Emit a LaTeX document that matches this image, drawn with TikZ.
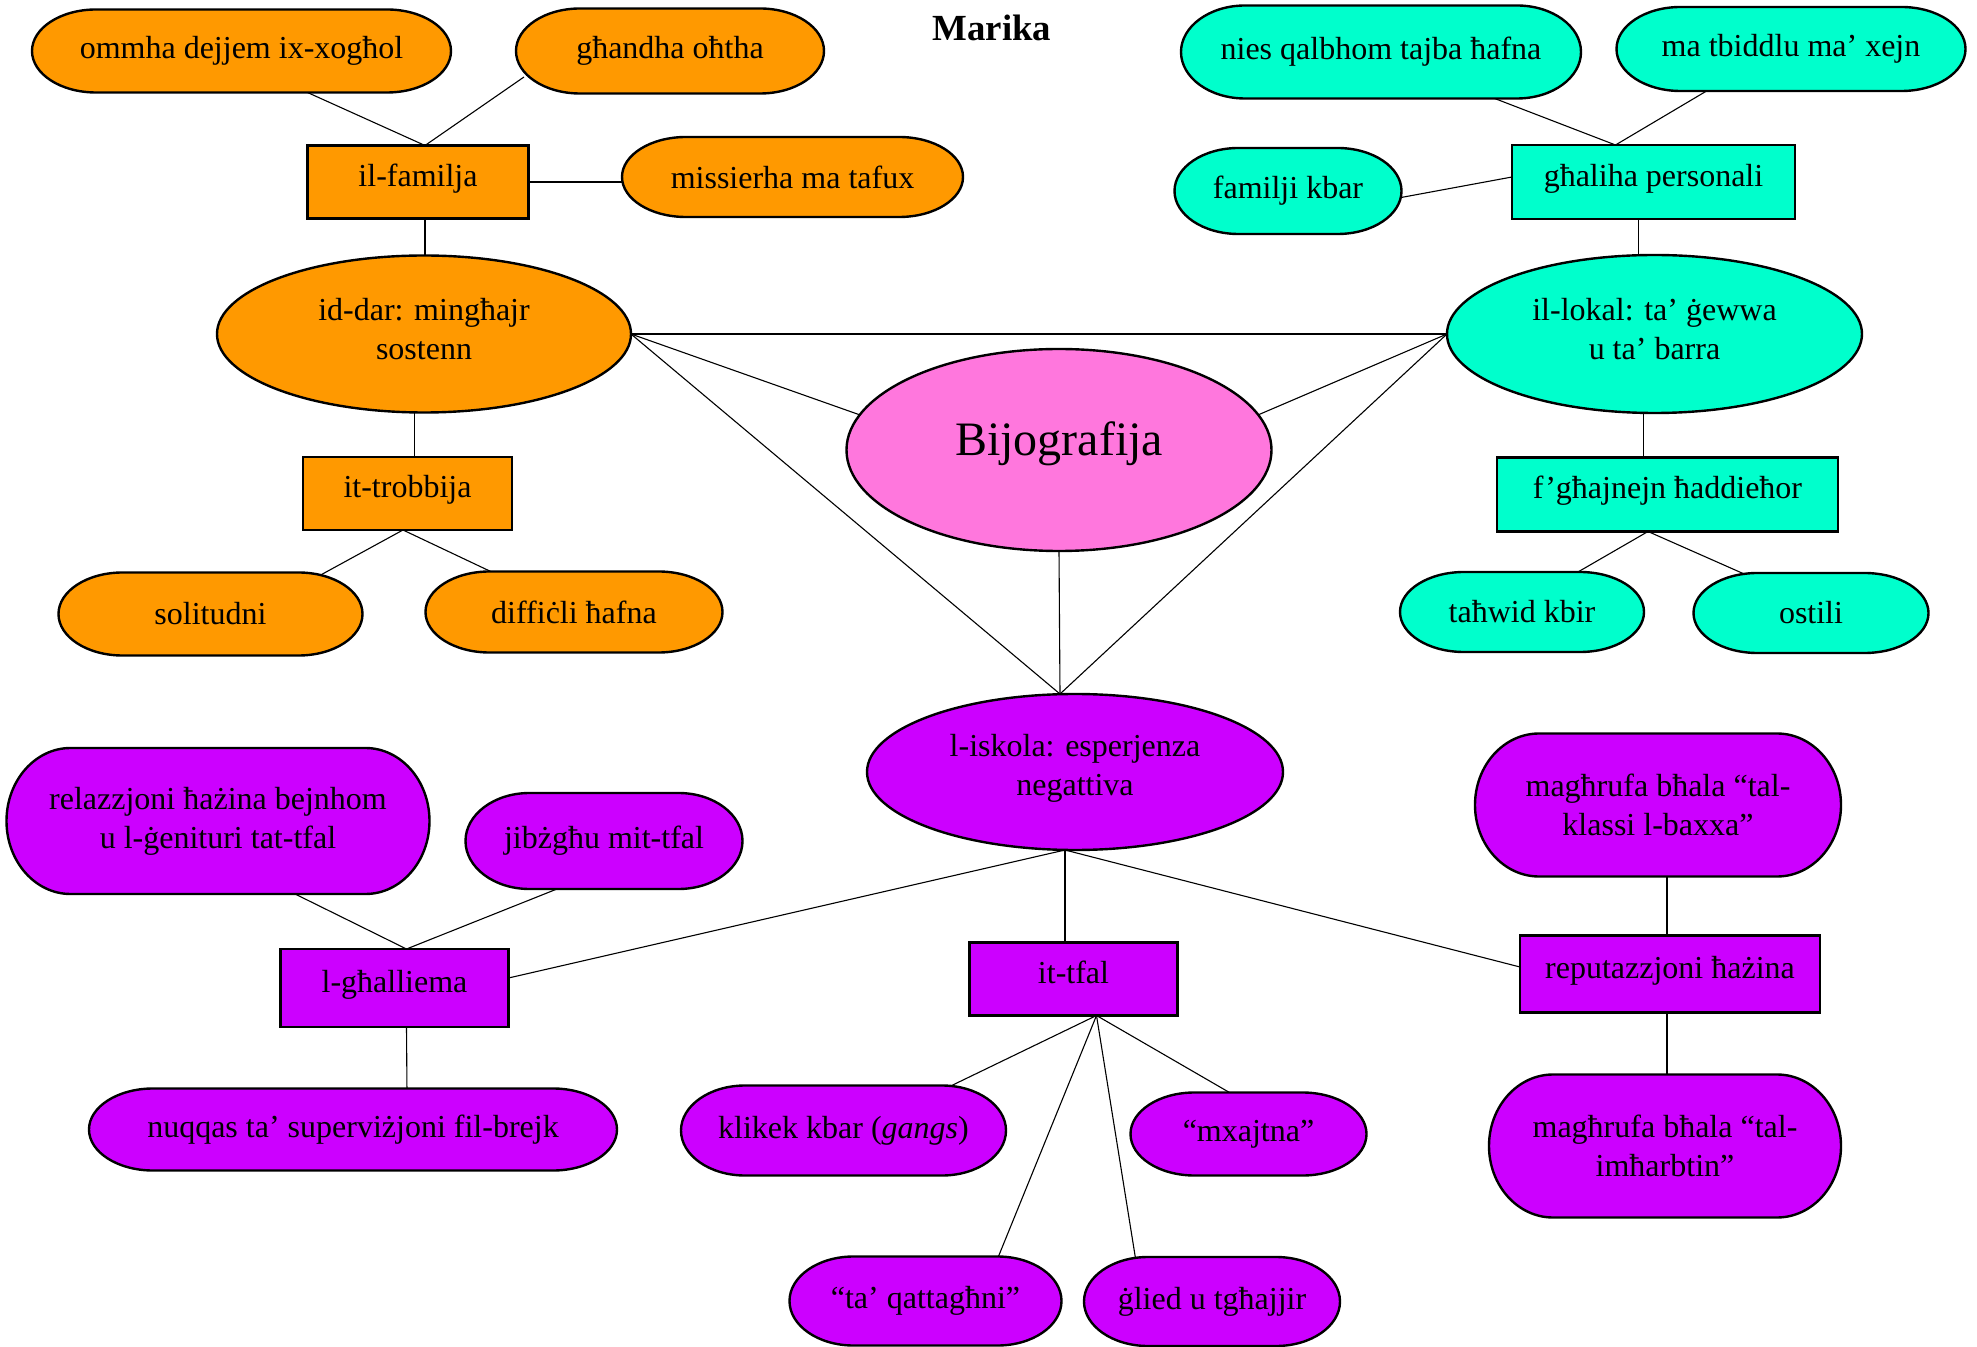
\documentclass[tikz,border=0pt]{standalone}
\usepackage{fontspec}
\setmainfont{Liberation Serif}
\usetikzlibrary{shapes.geometric,calc}
\pgfdeclarelayer{bg}
\pgfsetlayers{bg,main}
\definecolor{cOr}{HTML}{FF9900}
\definecolor{cCy}{HTML}{00FFCC}
\definecolor{cPu}{HTML}{CC00FF}
\definecolor{cPk}{HTML}{FF77DD}
\tikzset{
  txt/.style={font=\fontsize{16}{19.5}\selectfont, align=center, inner sep=0pt, outer sep=0pt},
  pillline/.style={line width=1.2pt, draw=black},
  boxnode/.style={txt, draw=black, line width=1.2pt, rectangle, text depth=7pt},
  ovalnode/.style={txt, draw=black, line width=1.2pt, ellipse},
  conn/.style={line width=0.55pt, draw=black},
}
% name, cx, cy, w, h, colour, text
\newcommand{\pillnode}[7]{%
  \draw[pillline,fill=#6] ({#2-#4/2+64},{#3-#5/2}) -- ({#2+#4/2-64},{#3-#5/2})
    .. controls ({#2+#4/2-28.65},{#3-#5/2}) and ({#2+#4/2},{#3-0.27614*#5}) .. ({#2+#4/2},{#3})
    .. controls ({#2+#4/2},{#3+0.27614*#5}) and ({#2+#4/2-28.65},{#3+#5/2}) .. ({#2+#4/2-64},{#3+#5/2})
    -- ({#2-#4/2+64},{#3+#5/2})
    .. controls ({#2-#4/2+28.65},{#3+#5/2}) and ({#2-#4/2},{#3+0.27614*#5}) .. ({#2-#4/2},{#3})
    .. controls ({#2-#4/2},{#3-0.27614*#5}) and ({#2-#4/2+28.65},{#3-#5/2}) .. ({#2-#4/2+64},{#3-#5/2}) -- cycle;
  \node[txt,minimum width={#4*0.5pt},minimum height={#5*0.5pt}] (#1) at (#2,#3) {#7};
}
\begin{document}
\begin{tikzpicture}[x=0.5pt,y=-0.5pt]
\useasboundingbox (0,0) rectangle (1977,1347);

\node[font=\bfseries\fontsize{18.4}{22}\selectfont, inner sep=0pt] (title) at (992,28) {Marika};

% orange
\pillnode{ommha}{241.5}{51}{419}{83}{cOr}{ommha dejjem ix-xogħol}
\pillnode{ghandha}{670}{51}{308}{85}{cOr}{għandha oħtha}
\node[boxnode,fill=cOr,minimum width=110.5pt,minimum height=36.5pt] (familja) at (418,182) {il-familja};
\pillnode{missierha}{792.5}{177}{341}{80}{cOr}{missierha ma tafux}
\node[ovalnode,fill=cOr,minimum width=207pt,minimum height=78.5pt,text depth=5pt] (iddar) at (424,334) {id-dar: mingħajr\\sostenn};
\node[boxnode,fill=cOr,minimum width=104.5pt,minimum height=36.5pt] (trobbija) at (407.5,493.5) {it-trobbija};
\pillnode{solitudni}{210.5}{614}{304}{83}{cOr}{solitudni}
\pillnode{diffcli}{574}{612}{297}{81}{cOr}{diffiċli ħafna}

% centre
\node[ovalnode,fill=cPk,minimum width=212.5pt,minimum height=101pt,font=\fontsize{24}{28}\selectfont,text depth=11pt] (bio) at (1059,450) {Bijografija};

% cyan
\pillnode{nies}{1381}{52}{400}{93}{cCy}{nies qalbhom tajba ħafna}
\pillnode{tbiddlu}{1791}{49}{349}{84}{cCy}{ma tbiddlu ma’ xejn}
\pillnode{familji}{1288}{191}{227}{86}{cCy}{familji kbar}
\node[boxnode,fill=cCy,minimum width=141.5pt,minimum height=37pt] (ghaliha) at (1653.5,182) {għaliha personali};
\node[ovalnode,fill=cCy,minimum width=207.5pt,minimum height=79pt,text depth=5pt] (lokal) at (1654.5,334) {il-lokal: ta’ ġewwa\\u ta’ barra};
\node[boxnode,fill=cCy,minimum width=170.5pt,minimum height=37pt] (ghajnejn) at (1667.5,494.5) {f’għajnejn ħaddieħor};
\pillnode{tahwid}{1522}{612}{244}{80}{cCy}{taħwid kbir}
\pillnode{ostili}{1811}{613}{235}{80}{cCy}{ostili}

% purple
\node[ovalnode,fill=cPu,minimum width=208pt,minimum height=78pt,text depth=7pt] (iskola) at (1075,772) {l-iskola: esperjenza\\negattiva};
\pillnode{relazzjoni}{218}{821}{423}{146}{cPu}{relazzjoni ħażina bejnhom\\u l-ġenituri tat-tfal}
\pillnode{jibzghu}{604}{841}{277}{96}{cPu}{jibżgħu mit-tfal}
\pillnode{klassi}{1658}{805}{366}{143}{cPu}{magħrufa bħala “tal-\\klassi l-baxxa”}
\node[boxnode,fill=cPu,minimum width=114pt,minimum height=39pt] (ghalliema) at (394.5,988) {l-għalliema};
\node[boxnode,fill=cPu,minimum width=104pt,minimum height=36.5pt] (ittfal) at (1073.5,979) {it-tfal};
\node[boxnode,fill=cPu,minimum width=150pt,minimum height=38.5pt] (reput) at (1670,974) {reputazzjoni ħażina};
\pillnode{nuqqas}{353}{1129.5}{528}{82}{cPu}{nuqqas ta’ superviżjoni fil-brejk}
\pillnode{klikek}{843.5}{1130.5}{325}{90}{cPu}{klikek kbar (\textit{gangs})}
\pillnode{mxajtna}{1248.5}{1134}{236}{83}{cPu}{“mxajtna”}
\pillnode{imharbtin}{1665}{1146}{352}{143}{cPu}{magħrufa bħala “tal-\\imħarbtin”}
\pillnode{qattaghni}{925.5}{1301}{272}{89}{cPu}{“ta’ qattagħni”}
\pillnode{glied}{1212}{1301.5}{256}{89}{cPu}{ġlied u tgħajjir}

\coordinate (conv) at ($(iskola.north)+(-15,0)$);
\coordinate (conv2) at ($(iskola.south)+(-10,0)$);
\coordinate (tfalhub) at ($(ittfal.south)+(23,0)$);

\begin{pgfonlayer}{bg}
\draw[conn] ($(familja.north)+(7,0)$) -- ($(ommha.south)+(66,0)$);
\draw[conn] ($(familja.north)+(7,0)$) -- ($(ghandha.center)+(-146,26)$);
\draw[conn] (familja.east) -- (missierha.west |- familja.east);
\draw[conn] ($(familja.south)+(7,0)$) -- ($(iddar.north)+(1,5)$);
\draw[conn] ($(iddar.south)+(-9.5,-5)$) -- ($(trobbija.north)+(7,0)$);
\draw[conn] ($(trobbija.south)+(-4.5,0)$) -- ($(solitudni.center)+(106.5,-37)$);
\draw[conn] ($(trobbija.south)+(-4.5,0)$) -- ($(diffcli.center)+(-78,-38)$);
\draw[conn] (iddar.east) -- (lokal.west);
\draw[conn] (iddar.east) -- (bio.170);
\draw[conn] (iddar.east) -- (conv);
\draw[conn] (lokal.west) -- (bio.10);
\draw[conn] (lokal.west) -- (conv);
\draw[conn] (bio.south) -- (conv);
\draw[conn] ($(ghaliha.south)+(-15,0)$) -- ($(lokal.north)+(-16,5)$);
\draw[conn] ($(lokal.south)+(-11,-5)$) -- ($(ghajnejn.north)+(-24,0)$);
\draw[conn] ($(ghajnejn.south)+(-19.5,0)$) -- ($(tahwid.center)+(49,-36)$);
\draw[conn] ($(ghajnejn.south)+(-19.5,0)$) -- ($(ostili.center)+(-60,-36)$);
\draw[conn] ($(ghaliha.north)+(-38,0)$) -- ($(nies.center)+(102,42)$);
\draw[conn] ($(ghaliha.north)+(-38,0)$) -- ($(tbiddlu.center)+(-76,37)$);
\draw[conn] ($(ghaliha.west)+(0,-5)$) -- ($(familji.center)+(105,8)$);
\draw[conn] (conv2) -- ($(ghalliema.east)+(0,-10)$);
\draw[conn] (conv2) -- ($(ittfal.north)+(-8.5,0)$);
\draw[conn] (conv2) -- ($(reput.west)+(0,-7)$);
\draw[conn] ($(ghalliema.north)+(12,0)$) -- ($(relazzjoni.center)+(71,70)$);
\draw[conn] ($(ghalliema.north)+(12,0)$) -- ($(jibzghu.center)+(-42,46)$);
\draw[conn] ($(ghalliema.south)+(12,0)$) -- ($(nuqqas.north)+(54,5)$);
\draw[conn] (tfalhub) -- ($(klikek.center)+(102,-42)$);
\draw[conn] (tfalhub) -- ($(mxajtna.center)+(-13,-38)$);
\draw[conn] (tfalhub) -- ($(qattaghni.center)+(71.5,-41)$);
\draw[conn] (tfalhub) -- ($(glied.center)+(-76,-40)$);
\draw[conn] ($(reput.north)+(-3,0)$) -- ($(klassi.south)+(9,-5)$);
\draw[conn] ($(reput.south)+(-3,0)$) -- ($(imharbtin.north)+(2,5)$);
\end{pgfonlayer}
\end{tikzpicture}
\end{document}
